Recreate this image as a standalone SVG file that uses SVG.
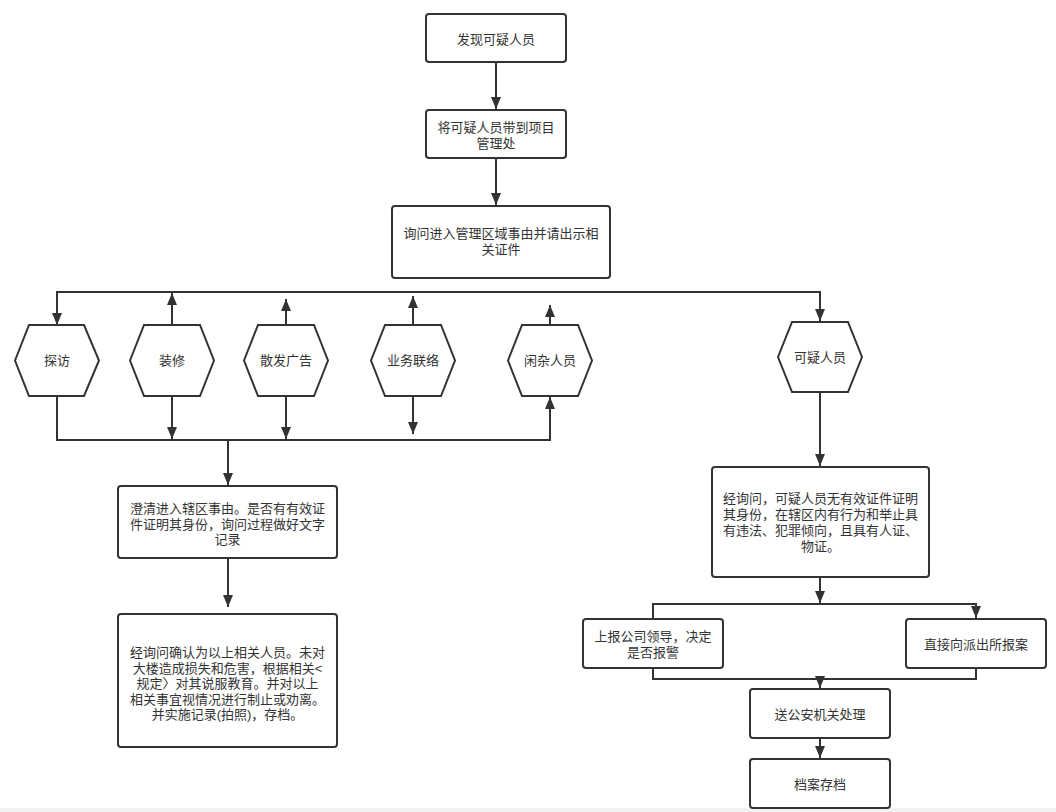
<svg xmlns="http://www.w3.org/2000/svg" width="1056" height="812" viewBox="0 0 1056 812">
<defs>
<style>
.box{fill:#fff;stroke:#333;stroke-width:2}
.hex{fill:#fff;stroke:#333;stroke-width:2;stroke-linejoin:miter}
.t{font-family:"Liberation Sans","Noto Sans CJK SC",sans-serif;font-size:13px;fill:#333;text-anchor:middle;dominant-baseline:central}
.c{fill:none;stroke:#333;stroke-width:2}
.a{marker-end:url(#ah)}
</style>
<marker id="ah" viewBox="0 0 12 10" refX="12" refY="5" markerWidth="12" markerHeight="10" markerUnits="userSpaceOnUse" orient="auto-start-reverse">
<path d="M0,0 L12,5 L0,10 z" fill="#333"/>
</marker>
</defs>
<rect x="0" y="0" width="1056" height="812" fill="#fff"/>
<rect x="0" y="808" width="1056" height="4" fill="#f1f1f1"/>

<g id="connectors">
<path class="c a" d="M496,62 V109"/>
<path class="c a" d="M496,158 V205"/>
<path class="c a" d="M57,325 V292 H820 V321" marker-start="url(#ah)"/>
<path class="c a" d="M172,325 V293"/>
<path class="c a" d="M286,325 V299"/>
<path class="c a" d="M413,325 V296"/>
<path class="c a" d="M550,325 V305"/>
<path class="c a" d="M57,396 V440 H550 V397"/>
<path class="c a" d="M172,396 V439"/>
<path class="c a" d="M286,396 V439"/>
<path class="c a" d="M413,396 V434"/>
<path class="c a" d="M228,440 V485"/>
<path class="c a" d="M228,558 V607"/>
<path class="c a" d="M820,392 V466"/>
<path class="c a" d="M820,577 V603"/>
<path class="c a" d="M653,619 V604 H976 V618"/>
<path class="c" d="M653,668 V679 H976 V668"/>
<path class="c a" d="M820,679 V688"/>
<path class="c a" d="M820,738 V758"/>
</g>

<g id="n1"><rect class="box" x="426" y="14" width="140" height="48" rx="3"/><text class="t" x="496" y="39">发现可疑人员</text></g>
<g id="n2"><rect class="box" x="426" y="110" width="140" height="48" rx="3"/><text class="t" x="496" y="127">将可疑人员带到项目</text><text class="t" x="496" y="143">管理处</text></g>
<g id="n3"><rect class="box" x="392" y="206" width="218" height="72" rx="3"/><text class="t" x="501" y="233">询问进入管理区域事由并请出示相</text><text class="t" x="501" y="249">关证件</text></g>

<g id="h1"><polygon class="hex" points="15,360.5 29,325 84,325 99,360.5 84,396 29,396"/><text class="t" x="57" y="360.5">探访</text></g>
<g id="h2"><polygon class="hex" points="130,360.5 144,325 200,325 214,360.5 200,396 144,396"/><text class="t" x="172" y="360.5">装修</text></g>
<g id="h3"><polygon class="hex" points="244,360.5 258,325 314,325 328,360.5 314,396 258,396"/><text class="t" x="286" y="360.5">散发广告</text></g>
<g id="h4"><polygon class="hex" points="371,360.5 385,325 441,325 455,360.5 441,396 385,396"/><text class="t" x="413" y="360.5">业务联络</text></g>
<g id="h5"><polygon class="hex" points="508,360.5 522,325 578,325 592,360.5 578,396 522,396"/><text class="t" x="550" y="360.5">闲杂人员</text></g>
<g id="h6"><polygon class="hex" points="778,357 792,322 848,322 862,357 848,392 792,392"/><text class="t" x="820" y="357">可疑人员</text></g>

<g id="n4"><rect class="box" x="118" y="486" width="219" height="72" rx="3"/>
<text class="t" x="227.5" y="508.5">澄清进入辖区事由。是否有有效证</text>
<text class="t" x="227.5" y="524">件证明其身份，询问过程做好文字</text>
<text class="t" x="227.5" y="539.5">记录</text></g>

<g id="n5"><rect class="box" x="118" y="614" width="219" height="133" rx="3"/>
<text class="t" x="227.5" y="652">经询问确认为以上相关人员。未对</text>
<text class="t" x="227.5" y="668">大楼造成损失和危害，根据相关&lt;</text>
<text class="t" x="227.5" y="683.5">规定〉对其说服教育。并对以上</text>
<text class="t" x="227.5" y="699">相关事宜视情况进行制止或劝离。</text>
<text class="t" x="227.5" y="714.5">并实施记录(拍照)，存档。</text></g>

<g id="n6"><rect class="box" x="712" y="467" width="217" height="110" rx="3"/>
<text class="t" x="820.5" y="498">经询问，可疑人员无有效证件证明</text>
<text class="t" x="820.5" y="514">其身份，在辖区内有行为和举止具</text>
<text class="t" x="820.5" y="530">有违法、犯罪倾向，且具有人证、</text>
<text class="t" x="820.5" y="546">物证。</text></g>

<g id="n7"><rect class="box" x="583" y="619" width="140" height="49" rx="3"/><text class="t" x="653" y="636">上报公司领导，决定</text><text class="t" x="653" y="652">是否报警</text></g>
<g id="n8"><rect class="box" x="906" y="619" width="140" height="49" rx="3"/><text class="t" x="976" y="644">直接向派出所报案</text></g>
<g id="n9"><rect class="box" x="750" y="689" width="140" height="49" rx="3"/><text class="t" x="820" y="714">送公安机关处理</text></g>
<g id="n10"><rect class="box" x="750" y="759" width="140" height="49" rx="3"/><text class="t" x="820" y="784">档案存档</text></g>
</svg>
